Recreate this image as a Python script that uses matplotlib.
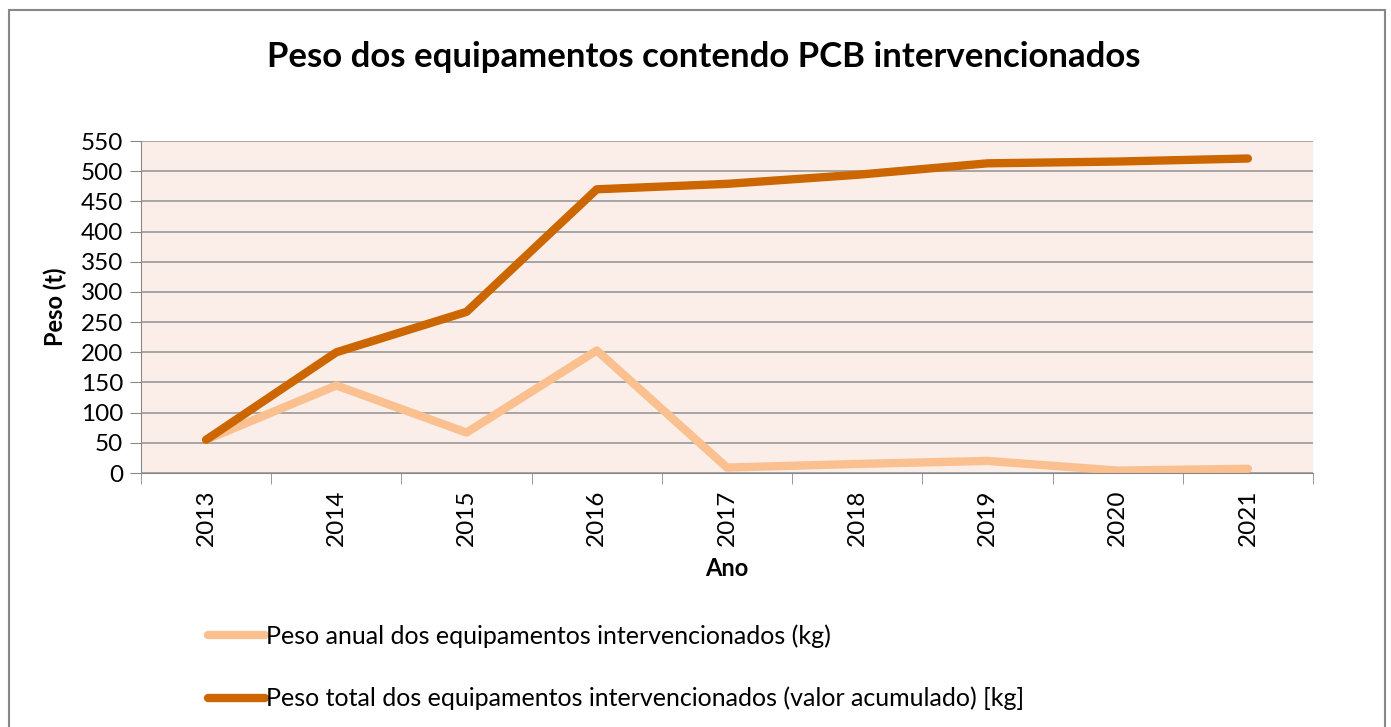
import numpy as np
import matplotlib.pyplot as plt
from matplotlib.patches import Rectangle

anos = ["2013", "2014", "2015", "2016", "2017", "2018", "2019", "2020", "2021"]
peso_anual = [55, 145, 67, 203, 9, 15, 20, 4, 7]
peso_total = [55, 200, 267, 470, 479, 494, 513, 516, 521]

plt.rcParams["font.family"] = ["Lato", "DejaVu Sans"]

fig = plt.figure(figsize=(13.91, 7.27), dpi=100)
ax = fig.add_axes([141 / 1391, 1 - 473 / 727, (1313 - 141) / 1391, (473 - 141) / 727])
ax.set_facecolor("#FBEEE8")

x = np.arange(len(anos))
ax.plot(x, peso_anual, color="#FAC090", lw=6, solid_capstyle="round", solid_joinstyle="round",
        label="Peso anual dos equipamentos intervencionados (kg)")
ax.plot(x, peso_total, color="#CC6600", lw=6, solid_capstyle="round", solid_joinstyle="round",
        label="Peso total dos equipamentos intervencionados (valor acumulado) [kg]")

ax.set_xlim(-0.5, len(anos) - 0.5)
ax.set_ylim(0, 550)
ax.set_yticks(np.arange(0, 551, 50))
ax.set_xticks(x)
ax.set_xticklabels(anos, rotation=90)
ax.set_xticks(np.arange(-0.5, len(anos)), minor=True)
ax.tick_params(axis="x", which="major", length=0, pad=12, labelsize=17.5)
ax.tick_params(axis="x", which="minor", length=8, color="#888888")
ax.tick_params(axis="y", length=8, color="#888888", labelsize=17.5, pad=5)
ax.grid(axis="y", color="#999999", lw=1.2)
ax.set_axisbelow(True)
for s in ["top", "right"]:
    ax.spines[s].set_visible(False)
for s in ["left", "bottom"]:
    ax.spines[s].set_color("#888888")

ax.set_xlabel("Ano", fontsize=17, fontweight="bold", labelpad=8)
ax.set_ylabel("Peso (t)", fontsize=17, fontweight="bold", labelpad=10)

fig.text(704 / 1391, 1 - 57 / 727, "Peso dos equipamentos contendo PCB intervencionados",
         ha="center", va="center", fontsize=25, fontweight="bold")

fig.legend(loc="upper left", bbox_to_anchor=(185 / 1391, 1 - 602 / 727), frameon=False,
           fontsize=18, handlelength=2.3, handletextpad=0.05, labelspacing=1.55)

fig.add_artist(Rectangle((9 / 1391, -0.02), (1385 - 9) / 1391, 1 - 10 / 727 + 0.02,
                         transform=fig.transFigure, fill=False, edgecolor="#888888", lw=1.5))

fig.savefig("out.png", dpi=100)
